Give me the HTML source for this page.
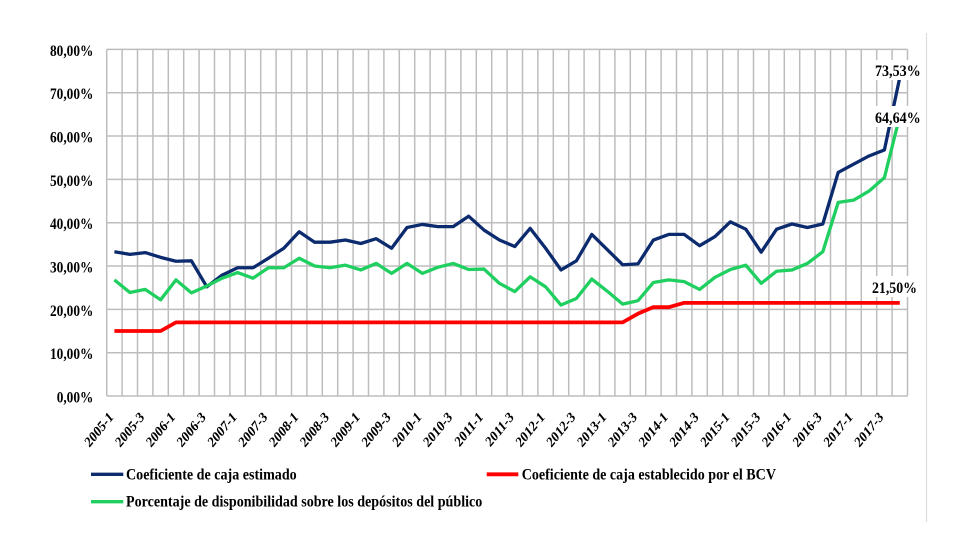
<!DOCTYPE html>
<html>
<head>
<meta charset="utf-8">
<style>
html,body{margin:0;padding:0;background:#fff;}
svg{display:block;}
text{font-family:"Liberation Serif","DejaVu Serif",serif;font-weight:bold;fill:#000;}
</style>
</head>
<body>
<svg width="968" height="557" viewBox="0 0 968 557" xmlns="http://www.w3.org/2000/svg">
<rect x="0" y="0" width="968" height="557" fill="#fff"/>
<line x1="926.5" y1="33" x2="926.5" y2="522" stroke="#dcdcdc" stroke-width="1.2"/>

<g stroke="#bdbdbd" stroke-width="1.5">
<line x1="106.7" x2="907.5" y1="396" y2="396"/>
<line x1="106.7" x2="907.5" y1="352.7" y2="352.7"/>
<line x1="106.7" x2="907.5" y1="309.35" y2="309.35"/>
<line x1="106.7" x2="907.5" y1="266.0" y2="266.0"/>
<line x1="106.7" x2="907.5" y1="222.7" y2="222.7"/>
<line x1="106.7" x2="907.5" y1="179.4" y2="179.4"/>
<line x1="106.7" x2="907.5" y1="136.05" y2="136.05"/>
<line x1="106.7" x2="907.5" y1="92.7" y2="92.7"/>
<line x1="106.7" x2="907.5" y1="49.4" y2="49.4"/>
</g>
<g transform="translate(106.7 0) scale(15.4 1)" stroke="#bdbdbd">
<g stroke-width="1.5">
<line x1="0" x2="0" y1="49.4" y2="396" vector-effect="non-scaling-stroke"/>
<line x1="1" x2="1" y1="49.4" y2="396" vector-effect="non-scaling-stroke"/>
<line x1="2" x2="2" y1="49.4" y2="396" vector-effect="non-scaling-stroke"/>
<line x1="3" x2="3" y1="49.4" y2="396" vector-effect="non-scaling-stroke"/>
<line x1="4" x2="4" y1="49.4" y2="396" vector-effect="non-scaling-stroke"/>
<line x1="5" x2="5" y1="49.4" y2="396" vector-effect="non-scaling-stroke"/>
<line x1="6" x2="6" y1="49.4" y2="396" vector-effect="non-scaling-stroke"/>
<line x1="7" x2="7" y1="49.4" y2="396" vector-effect="non-scaling-stroke"/>
<line x1="8" x2="8" y1="49.4" y2="396" vector-effect="non-scaling-stroke"/>
<line x1="9" x2="9" y1="49.4" y2="396" vector-effect="non-scaling-stroke"/>
<line x1="10" x2="10" y1="49.4" y2="396" vector-effect="non-scaling-stroke"/>
<line x1="11" x2="11" y1="49.4" y2="396" vector-effect="non-scaling-stroke"/>
<line x1="12" x2="12" y1="49.4" y2="396" vector-effect="non-scaling-stroke"/>
<line x1="13" x2="13" y1="49.4" y2="396" vector-effect="non-scaling-stroke"/>
<line x1="14" x2="14" y1="49.4" y2="396" vector-effect="non-scaling-stroke"/>
<line x1="15" x2="15" y1="49.4" y2="396" vector-effect="non-scaling-stroke"/>
<line x1="16" x2="16" y1="49.4" y2="396" vector-effect="non-scaling-stroke"/>
<line x1="17" x2="17" y1="49.4" y2="396" vector-effect="non-scaling-stroke"/>
<line x1="18" x2="18" y1="49.4" y2="396" vector-effect="non-scaling-stroke"/>
<line x1="19" x2="19" y1="49.4" y2="396" vector-effect="non-scaling-stroke"/>
<line x1="20" x2="20" y1="49.4" y2="396" vector-effect="non-scaling-stroke"/>
<line x1="21" x2="21" y1="49.4" y2="396" vector-effect="non-scaling-stroke"/>
<line x1="22" x2="22" y1="49.4" y2="396" vector-effect="non-scaling-stroke"/>
<line x1="23" x2="23" y1="49.4" y2="396" vector-effect="non-scaling-stroke"/>
<line x1="24" x2="24" y1="49.4" y2="396" vector-effect="non-scaling-stroke"/>
<line x1="25" x2="25" y1="49.4" y2="396" vector-effect="non-scaling-stroke"/>
<line x1="26" x2="26" y1="49.4" y2="396" vector-effect="non-scaling-stroke"/>
<line x1="27" x2="27" y1="49.4" y2="396" vector-effect="non-scaling-stroke"/>
<line x1="28" x2="28" y1="49.4" y2="396" vector-effect="non-scaling-stroke"/>
<line x1="29" x2="29" y1="49.4" y2="396" vector-effect="non-scaling-stroke"/>
<line x1="30" x2="30" y1="49.4" y2="396" vector-effect="non-scaling-stroke"/>
<line x1="31" x2="31" y1="49.4" y2="396" vector-effect="non-scaling-stroke"/>
<line x1="32" x2="32" y1="49.4" y2="396" vector-effect="non-scaling-stroke"/>
<line x1="33" x2="33" y1="49.4" y2="396" vector-effect="non-scaling-stroke"/>
<line x1="34" x2="34" y1="49.4" y2="396" vector-effect="non-scaling-stroke"/>
<line x1="35" x2="35" y1="49.4" y2="396" vector-effect="non-scaling-stroke"/>
<line x1="36" x2="36" y1="49.4" y2="396" vector-effect="non-scaling-stroke"/>
<line x1="37" x2="37" y1="49.4" y2="396" vector-effect="non-scaling-stroke"/>
<line x1="38" x2="38" y1="49.4" y2="396" vector-effect="non-scaling-stroke"/>
<line x1="39" x2="39" y1="49.4" y2="396" vector-effect="non-scaling-stroke"/>
<line x1="40" x2="40" y1="49.4" y2="396" vector-effect="non-scaling-stroke"/>
<line x1="41" x2="41" y1="49.4" y2="396" vector-effect="non-scaling-stroke"/>
<line x1="42" x2="42" y1="49.4" y2="396" vector-effect="non-scaling-stroke"/>
<line x1="43" x2="43" y1="49.4" y2="396" vector-effect="non-scaling-stroke"/>
<line x1="44" x2="44" y1="49.4" y2="396" vector-effect="non-scaling-stroke"/>
<line x1="45" x2="45" y1="49.4" y2="396" vector-effect="non-scaling-stroke"/>
<line x1="46" x2="46" y1="49.4" y2="396" vector-effect="non-scaling-stroke"/>
<line x1="47" x2="47" y1="49.4" y2="396" vector-effect="non-scaling-stroke"/>
<line x1="48" x2="48" y1="49.4" y2="396" vector-effect="non-scaling-stroke"/>
<line x1="49" x2="49" y1="49.4" y2="396" vector-effect="non-scaling-stroke"/>
<line x1="50" x2="50" y1="49.4" y2="396" vector-effect="non-scaling-stroke"/>
<line x1="51" x2="51" y1="49.4" y2="396" vector-effect="non-scaling-stroke"/>
<line x1="52" x2="52" y1="49.4" y2="396" vector-effect="non-scaling-stroke"/>
</g>
</g>

<g font-size="16" text-anchor="end">
<text x="93.3" y="55.9" textLength="43.3" lengthAdjust="spacingAndGlyphs">80,00%</text>
<text x="93.3" y="99.2" textLength="43.3" lengthAdjust="spacingAndGlyphs">70,00%</text>
<text x="93.3" y="142.5" textLength="43.3" lengthAdjust="spacingAndGlyphs">60,00%</text>
<text x="93.3" y="185.9" textLength="43.3" lengthAdjust="spacingAndGlyphs">50,00%</text>
<text x="93.3" y="229.2" textLength="43.3" lengthAdjust="spacingAndGlyphs">40,00%</text>
<text x="93.3" y="272.5" textLength="43.3" lengthAdjust="spacingAndGlyphs">30,00%</text>
<text x="93.3" y="315.85" textLength="43.3" lengthAdjust="spacingAndGlyphs">20,00%</text>
<text x="93.3" y="359.2" textLength="43.3" lengthAdjust="spacingAndGlyphs">10,00%</text>
<text x="93.3" y="402.5" textLength="36.6" lengthAdjust="spacingAndGlyphs">0,00%</text>
</g>

<g font-size="15" text-anchor="end">
<text transform="translate(114 418) scale(0.82 1) rotate(-45)">2005-1</text>
<text transform="translate(144.8 418) scale(0.82 1) rotate(-45)">2005-3</text>
<text transform="translate(175.6 418) scale(0.82 1) rotate(-45)">2006-1</text>
<text transform="translate(206.4 418) scale(0.82 1) rotate(-45)">2006-3</text>
<text transform="translate(237.2 418) scale(0.82 1) rotate(-45)">2007-1</text>
<text transform="translate(268 418) scale(0.82 1) rotate(-45)">2007-3</text>
<text transform="translate(298.8 418) scale(0.82 1) rotate(-45)">2008-1</text>
<text transform="translate(329.6 418) scale(0.82 1) rotate(-45)">2008-3</text>
<text transform="translate(360.4 418) scale(0.82 1) rotate(-45)">2009-1</text>
<text transform="translate(391.2 418) scale(0.82 1) rotate(-45)">2009-3</text>
<text transform="translate(422 418) scale(0.82 1) rotate(-45)">2010-1</text>
<text transform="translate(452.8 418) scale(0.82 1) rotate(-45)">2010-3</text>
<text transform="translate(483.6 418) scale(0.82 1) rotate(-45)">2011-1</text>
<text transform="translate(514.4 418) scale(0.82 1) rotate(-45)">2011-3</text>
<text transform="translate(545.2 418) scale(0.82 1) rotate(-45)">2012-1</text>
<text transform="translate(576 418) scale(0.82 1) rotate(-45)">2012-3</text>
<text transform="translate(606.8 418) scale(0.82 1) rotate(-45)">2013-1</text>
<text transform="translate(637.6 418) scale(0.82 1) rotate(-45)">2013-3</text>
<text transform="translate(668.4 418) scale(0.82 1) rotate(-45)">2014-1</text>
<text transform="translate(699.2 418) scale(0.82 1) rotate(-45)">2014-3</text>
<text transform="translate(730 418) scale(0.82 1) rotate(-45)">2015-1</text>
<text transform="translate(760.8 418) scale(0.82 1) rotate(-45)">2015-3</text>
<text transform="translate(791.6 418) scale(0.82 1) rotate(-45)">2016-1</text>
<text transform="translate(822.4 418) scale(0.82 1) rotate(-45)">2016-3</text>
<text transform="translate(853.2 418) scale(0.82 1) rotate(-45)">2017-1</text>
<text transform="translate(884 418) scale(0.82 1) rotate(-45)">2017-3</text>
</g>

<g transform="translate(114.4 396) scale(15.4 -4.3325)" fill="none" stroke-linejoin="round" stroke-linecap="butt">
<polyline vector-effect="non-scaling-stroke" stroke="#0c2a6e" stroke-width="3.3" points="0,33.3 1,32.7 2,33.1 3,32.0 4,31.1 5,31.2 6,25.2 7,27.9 8,29.6 9,29.6 10,31.8 11,34.1 12,37.9 13,35.5 14,35.5 15,36.0 16,35.2 17,36.3 18,34.1 19,38.9 20,39.6 21,39.1 22,39.1 23,41.5 24,38.3 25,36.0 26,34.5 27,38.7 28,34.1 29,29.1 30,31.2 31,37.3 32,33.8 33,30.3 34,30.5 35,36.0 36,37.3 37,37.3 38,34.7 39,36.8 40,40.2 41,38.5 42,33.2 43,38.5 44,39.7 45,38.9 46,39.7 47,51.6 48,53.5 49,55.4 50,56.8 51,73.53"/>
<polyline vector-effect="non-scaling-stroke" stroke="#ff0000" stroke-width="3.8" points="0,15 1,15 2,15 3,15 4,17 5,17 33,17 34,19 35,20.5 36,20.5 37,21.5 51,21.5"/>
<polyline vector-effect="non-scaling-stroke" stroke="#1fcf5f" stroke-width="3.3" points="0,26.8 1,23.9 2,24.6 3,22.2 4,26.8 5,23.8 6,25.4 7,27.2 8,28.5 9,27.2 10,29.6 11,29.6 12,31.8 13,30.0 14,29.6 15,30.2 16,29.1 17,30.6 18,28.3 19,30.6 20,28.3 21,29.7 22,30.6 23,29.2 24,29.3 25,26.0 26,24.1 27,27.5 28,25.2 29,21.0 30,22.5 31,27.0 32,24.2 33,21.2 34,22.0 35,26.2 36,26.8 37,26.4 38,24.6 39,27.4 40,29.2 41,30.2 42,26.0 43,28.8 44,29.1 45,30.6 46,33.3 47,44.7 48,45.2 49,47.3 50,50.4 51,64.64"/>
</g>

<rect x="872" y="60" width="51" height="20" fill="#fff"/>
<text x="875" y="76" font-size="15.5" textLength="45.7" lengthAdjust="spacingAndGlyphs">73,53%</text>
<rect x="872" y="106" width="51" height="21" fill="#fff"/>
<text x="875" y="123" font-size="15.5" textLength="45.7" lengthAdjust="spacingAndGlyphs">64,64%</text>
<rect x="869" y="276" width="51" height="21" fill="#fff"/>
<text x="872" y="293" font-size="15.5" textLength="45" lengthAdjust="spacingAndGlyphs">21,50%</text>

<line x1="91" y1="474.3" x2="123.3" y2="474.3" stroke="#0c2a6e" stroke-width="3.3"/>
<text x="126" y="479.5" font-size="15.5" textLength="170.7" lengthAdjust="spacingAndGlyphs">Coeficiente de caja estimado</text>
<line x1="486.7" y1="474.3" x2="518.3" y2="474.3" stroke="#ff0000" stroke-width="3.8"/>
<text x="521.7" y="479.5" font-size="15.5" textLength="254.3" lengthAdjust="spacingAndGlyphs">Coeficiente de caja establecido por el BCV</text>
<line x1="91" y1="501.7" x2="123.3" y2="501.7" stroke="#1fcf5f" stroke-width="3.3"/>
<text x="126" y="506.5" font-size="15.5" textLength="356.3" lengthAdjust="spacingAndGlyphs">Porcentaje de disponibilidad sobre los depósitos del público</text>
</svg>
</body>
</html>
